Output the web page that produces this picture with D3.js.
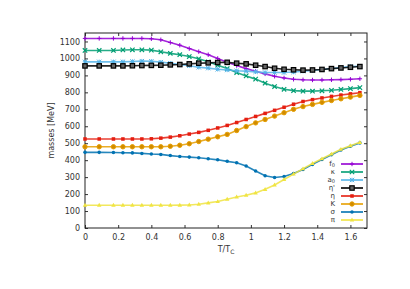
<!DOCTYPE html>
<html>
<head>
<meta charset="utf-8">
<script src="https://cdn.jsdelivr.net/npm/d3@7"></script>
<style>
  body { margin: 0; background: #fff; }
  text { font-family: "DejaVu Sans", sans-serif; fill: #333; }
</style>
</head>
<body>
<div id="chart"></div>
<script>
// temperatures in MeV, plotted as T/Tc with Tc = 175
var tc = 175;
var temps = [0, 15, 30, 40, 50, 60, 70, 80, 90, 100, 110, 120, 130, 140, 150,
  160, 170, 180, 190, 200, 210, 220, 230, 240, 250, 260, 270, 280, 290];

var f0 = [1118, 1118, 1118, 1118, 1118, 1118, 1116, 1110, 1094, 1078, 1058, 1040, 1022, 1000, 978,
  958, 940, 925, 909, 895, 885, 877, 874, 873, 873, 874, 875, 877, 880];
var kappa = [1047, 1047, 1047, 1050, 1051, 1051, 1049, 1039, 1030, 1022, 1011, 998, 980, 960, 940,
  917, 897, 878, 854, 834, 818, 810, 807, 807, 809, 812, 817, 822, 828];
var a0 = [980, 980, 980, 980, 982, 984, 983, 978, 972, 964, 957, 948, 943, 936, 932,
  927, 925, 921, 917, 917, 917, 920, 925, 929, 935, 941, 946, 952, 954];
var etap = [956, 956, 956, 956, 957, 958, 959, 960, 962, 964, 968, 972, 974, 976, 977,
  972, 968, 960, 952, 942, 936, 933, 931, 932, 935, 940, 944, 948, 952];
var eta = [525, 525, 525, 525, 525, 525, 526, 530, 536, 544, 554, 564, 576, 590, 605,
  622, 640, 658, 676, 694, 712, 730, 746, 757, 767, 776, 784, 791, 798];
var kaon = [479, 479, 479, 479, 479, 479, 479, 479, 482, 488, 497, 510, 524, 538, 552,
  575, 598, 620, 640, 660, 680, 700, 716, 729, 741, 752, 762, 772, 782];
var sigma = [446, 446, 445, 444, 443, 440, 436, 434, 427, 422, 418, 414, 408, 402, 393,
  385, 365, 336, 308, 298, 304, 322, 345, 375, 404, 432, 460, 482, 502];
var pion = [134, 134, 134, 134, 134, 134, 134, 134, 134, 135, 136, 140, 148, 156, 170,
  183, 193, 207, 228, 254, 286, 318, 349, 381, 408, 436, 464, 485, 505];

var names = ["f0", "κ", "a0", "η'", "η", "K", "σ", "π"];
var seriesValues = [f0, kappa, a0, etap, eta, kaon, sigma, pion];
var colors = ["#9400d3", "#009e73", "#56b4e9", "#000000", "#e51e10", "#e69f00", "#0072b2", "#f0e442"];
var markers = ["plus", "cross", "star", "osquare", "square", "ocircle", "circle", "triangle"];

var xTicks = [0, 0.2, 0.4, 0.6, 0.8, 1, 1.2, 1.4, 1.6];
var yTicks = [0, 100, 200, 300, 400, 500, 600, 700, 800, 900, 1000, 1100];

var svgWidth = 410, svgHeight = 289;
var margin = {top: 33, right: 43, bottom: 61, left: 85};
var width = svgWidth - margin.left - margin.right;
var height = svgHeight - margin.top - margin.bottom;

var svg = d3.select("#chart").append("svg")
  .attr("width", svgWidth)
  .attr("height", svgHeight);

var chartGroup = svg.append("g")
  .attr("transform", `translate(${margin.left}, ${margin.top})`);

var x = d3.scaleLinear().domain([0, 1.7]).range([0, width]);
var y = d3.scaleLinear().domain([0, 1150]).range([height, 0]);

// axes with inward ticks, mirrored on top and right
var fmt = d => String(d);
chartGroup.append("g").attr("class", "axis")
  .attr("transform", `translate(0, ${height})`)
  .call(d3.axisBottom(x).tickValues(xTicks).tickSizeInner(-3).tickSizeOuter(0).tickPadding(6).tickFormat(fmt));
chartGroup.append("g").attr("class", "axis")
  .call(d3.axisTop(x).tickValues(xTicks).tickSizeInner(-3).tickSizeOuter(0).tickFormat(""));
chartGroup.append("g").attr("class", "axis")
  .call(d3.axisLeft(y).tickValues(yTicks).tickSizeInner(-3).tickSizeOuter(0).tickPadding(5).tickFormat(fmt));
chartGroup.append("g").attr("class", "axis")
  .attr("transform", `translate(${width}, 0)`)
  .call(d3.axisRight(y).tickValues(yTicks).tickSizeInner(-3).tickSizeOuter(0).tickFormat(""));

chartGroup.selectAll(".axis path").remove();
chartGroup.selectAll(".axis line").attr("stroke", "#333");
chartGroup.selectAll(".axis text").attr("font-size", 8).attr("fill", "#333")
  .attr("font-family", "DejaVu Sans, sans-serif");

chartGroup.append("rect")
  .attr("width", width).attr("height", height)
  .attr("fill", "none").attr("stroke", "#222").attr("stroke-width", 1);

// marker drawing
function drawMarker(g, kind, cx, cy, color, s) {
  if (kind === "plus") {
    g.append("path").attr("d", `M${cx - s},${cy}H${cx + s}M${cx},${cy - s}V${cy + s}`)
      .attr("stroke", color).attr("stroke-width", 1);
  } else if (kind === "cross") {
    g.append("path").attr("d", `M${cx - s},${cy - s}L${cx + s},${cy + s}M${cx - s},${cy + s}L${cx + s},${cy - s}`)
      .attr("stroke", color).attr("stroke-width", 1.2);
  } else if (kind === "star") {
    g.append("path").attr("d", `M${cx - s},${cy}H${cx + s}M${cx},${cy - s}V${cy + s}M${cx - s},${cy - s}L${cx + s},${cy + s}M${cx - s},${cy + s}L${cx + s},${cy - s}`)
      .attr("stroke", color).attr("stroke-width", 1);
  } else if (kind === "osquare") {
    g.append("rect").attr("x", cx - s).attr("y", cy - s).attr("width", 2 * s).attr("height", 2 * s)
      .attr("fill", "#666").attr("stroke", color).attr("stroke-width", 1.2);
  } else if (kind === "square") {
    g.append("rect").attr("x", cx - s * 0.8).attr("y", cy - s * 0.8).attr("width", 1.6 * s).attr("height", 1.6 * s)
      .attr("fill", color);
  } else if (kind === "ocircle") {
    g.append("circle").attr("cx", cx).attr("cy", cy).attr("r", s)
      .attr("fill", "#d08a00").attr("stroke", color).attr("stroke-width", 1);
  } else if (kind === "circle") {
    g.append("circle").attr("cx", cx).attr("cy", cy).attr("r", s * 0.8).attr("fill", color);
  } else if (kind === "triangle") {
    g.append("path").attr("d", `M${cx},${cy - s * 1.1}L${cx + s},${cy + s * 0.7}L${cx - s},${cy + s * 0.7}Z`)
      .attr("fill", color);
  }
}

var line = d3.line()
  .x((d, i) => x(temps[i] / tc))
  .y(d => y(d));

seriesValues.forEach(function(vals, k) {
  var g = chartGroup.append("g");
  g.append("path")
    .datum(vals)
    .attr("d", line)
    .attr("fill", "none")
    .attr("stroke", colors[k])
    .attr("stroke-width", 1.6)
    .attr("stroke-opacity", 0.85);
  vals.forEach(function(v, i) {
    drawMarker(g, markers[k], x(temps[i] / tc), y(v), colors[k], 2.2);
  });
});

// legend
var legend = chartGroup.append("g")
  .attr("transform", `translate(${width - 28}, ${height - 64})`);
names.forEach(function(name, k) {
  var row = legend.append("g").attr("transform", `translate(0, ${k * 8})`);
  var label = row.append("text")
    .attr("x", -4).attr("y", 2)
    .attr("text-anchor", "end")
    .attr("font-size", 7);
  if (name === "f0" || name === "a0") {
    label.append("tspan").text(name[0]);
    label.append("tspan").attr("font-size", 5).attr("dy", 1).text("0");
  } else {
    label.text(name);
  }
  row.append("line")
    .attr("x1", 2).attr("x2", 24)
    .attr("stroke", colors[k]).attr("stroke-width", 1.6);
  drawMarker(row, markers[k], 13, 0, colors[k], 2.2);
});

// axis labels
chartGroup.append("text")
  .attr("transform", "rotate(-90)")
  .attr("x", -height / 2)
  .attr("y", -31)
  .attr("text-anchor", "middle")
  .attr("font-size", 8)
  .text("masses [MeV]");

var xl = chartGroup.append("text")
  .attr("x", x(0.85))
  .attr("y", height + 24)
  .attr("text-anchor", "middle")
  .attr("font-size", 8);
xl.append("tspan").text("T/T");
xl.append("tspan").attr("font-size", 6).attr("dy", 2).text("C");
</script>
</body>
</html>
